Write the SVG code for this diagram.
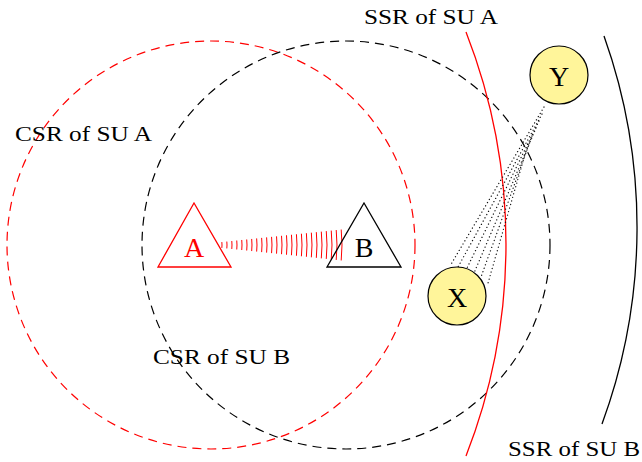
<svg xmlns="http://www.w3.org/2000/svg" width="642" height="462" viewBox="0 0 642 462">
<style>
.lbl{font-family:"Liberation Serif","DejaVu Serif",serif;font-size:20px;fill:#000}
.node{font-family:"Liberation Serif","DejaVu Serif",serif;font-size:28px;text-anchor:middle;dominant-baseline:central}
.dash{fill:none;stroke-width:1.2;stroke-dasharray:9 6}
.wave path{fill:none;stroke:#f00;stroke-width:1}
.dots line{stroke:#111;stroke-width:1.3;stroke-dasharray:0.1 3.6;stroke-linecap:round}
.tag{fill:#fff59a;stroke:#000;stroke-width:1.2}
</style>
<rect width="642" height="462" fill="#fff"/>
<g id="regions">
<circle id="csrA" class="dash" cx="211" cy="245" r="204" stroke="#f00"/>
<circle id="csrB" class="dash" cx="346" cy="245" r="204" stroke="#000"/>
<path id="ssrA" d="M466,32 A582,582 0 0 1 466,456" fill="none" stroke="#f00" stroke-width="1.3"/>
<path id="ssrB" d="M604,36 A570,570 0 0 1 602,424" fill="none" stroke="#000" stroke-width="1.3"/>
</g>
<g id="labels">
<text class="lbl" x="364" y="24" textLength="134" lengthAdjust="spacingAndGlyphs">SSR of SU A</text>
<text class="lbl" x="15" y="141" textLength="137" lengthAdjust="spacingAndGlyphs">CSR of SU A</text>
<text class="lbl" x="153" y="364" textLength="137" lengthAdjust="spacingAndGlyphs">CSR of SU B</text>
<text class="lbl" x="508" y="456" textLength="132" lengthAdjust="spacingAndGlyphs">SSR of SU B</text>
</g>
<g id="connectors">
<g class="wave">
<path d="M221.85,242.07A28,28 0 0 1 221.85,247.93"/>
<path d="M226.82,241.55A33,33 0 0 1 226.82,248.45"/>
<path d="M231.79,241.03A38,38 0 0 1 231.79,248.97"/>
<path d="M236.76,240.51A43,43 0 0 1 236.76,249.49"/>
<path d="M241.74,239.98A48,48 0 0 1 241.74,250.02"/>
<path d="M246.71,239.46A53,53 0 0 1 246.71,250.54"/>
<path d="M251.68,238.94A58,58 0 0 1 251.68,251.06"/>
<path d="M256.65,238.42A63,63 0 0 1 256.65,251.58"/>
<path d="M261.63,237.89A68,68 0 0 1 261.63,252.11"/>
<path d="M266.60,237.37A73,73 0 0 1 266.60,252.63"/>
<path d="M271.57,236.85A78,78 0 0 1 271.57,253.15"/>
<path d="M276.54,236.33A83,83 0 0 1 276.54,253.67"/>
<path d="M281.52,235.80A88,88 0 0 1 281.52,254.20"/>
<path d="M286.49,235.28A93,93 0 0 1 286.49,254.72"/>
<path d="M291.46,234.76A98,98 0 0 1 291.46,255.24"/>
<path d="M296.43,234.24A103,103 0 0 1 296.43,255.76"/>
<path d="M301.41,233.71A108,108 0 0 1 301.41,256.29"/>
<path d="M306.38,233.19A113,113 0 0 1 306.38,256.81"/>
<path d="M311.35,232.67A118,118 0 0 1 311.35,257.33"/>
<path d="M316.32,232.15A123,123 0 0 1 316.32,257.85"/>
<path d="M321.30,231.62A128,128 0 0 1 321.30,258.38"/>
<path d="M326.27,231.10A133,133 0 0 1 326.27,258.90"/>
<path d="M331.24,230.58A138,138 0 0 1 331.24,259.42"/>
<path d="M336.21,230.06A143,143 0 0 1 336.21,259.94"/>
<path d="M341.19,229.53A148,148 0 0 1 341.19,260.47"/>
</g>
<g class="dots">
<line x1="544" y1="107" x2="450" y2="266"/>
<line x1="542" y1="114" x2="458" y2="267"/>
<line x1="539" y1="121" x2="466" y2="270"/>
<line x1="536" y1="128" x2="474" y2="273"/>
<line x1="532" y1="136" x2="481" y2="277"/>
<line x1="528" y1="144" x2="488" y2="283"/>
</g>
</g>
<g id="nodeA">
<polygon points="194,203 231,267 158,267" fill="none" stroke="#f00" stroke-width="1.3"/>
<text class="node" x="194" y="247" fill="#f00">A</text>
</g>
<g id="nodeB">
<polygon points="364,203 401,267 327,267" fill="none" stroke="#000" stroke-width="1.3"/>
<text class="node" x="364" y="247">B</text>
</g>
<g id="nodeX">
<circle class="tag" cx="457" cy="296" r="29"/>
<text class="node" x="457" y="297">X</text>
</g>
<g id="nodeY">
<circle class="tag" cx="559" cy="75" r="29"/>
<text class="node" x="559" y="76">Y</text>
</g>
</svg>
